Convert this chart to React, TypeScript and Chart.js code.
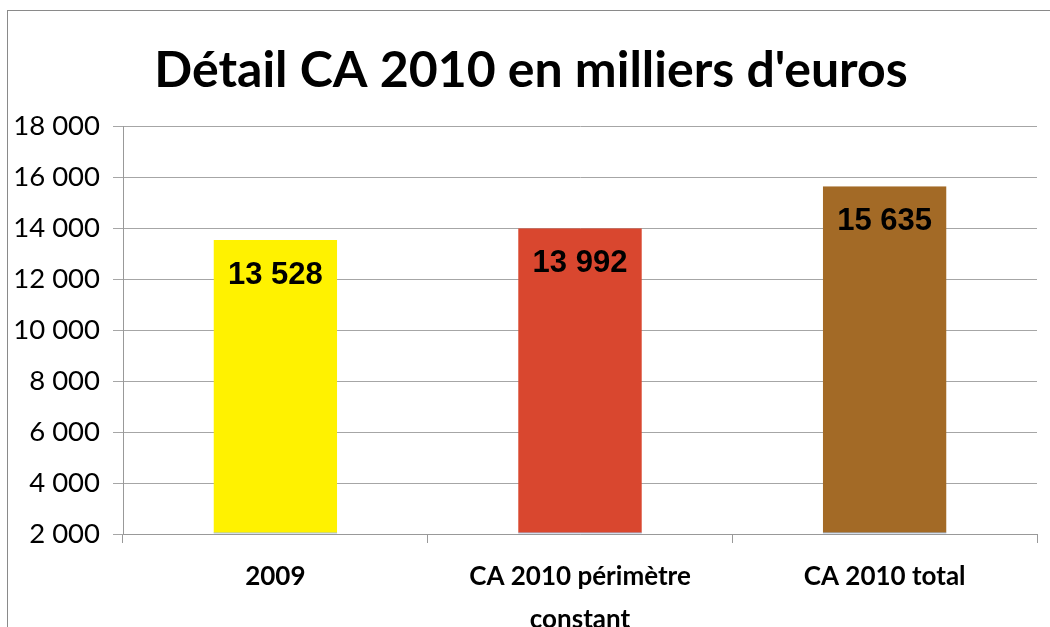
import React, { useEffect, useRef } from "react";
import { Chart, registerables } from "chart.js";

Chart.register(...registerables);

const categories: (string | string[])[] = ["2009", ["CA 2010 périmètre", "constant"], "CA 2010 total"];
const values: number[] = [13528, 13992, 15635];
const barColors: string[] = ["#FFF200", "#D9472F", "#A36A26"];
const yMin = 2000;
const yMax = 18000;
const yStep = 2000;
const titleText = "Détail CA 2010 en milliers d'euros";

const fmt = (v: number) => String(Math.round(v)).replace(/\B(?=(\d{3})+(?!\d))/g, " ");

const framePlugin = {
  id: "frame",
  beforeDraw(chart: any) {
    const ctx = chart.ctx;
    ctx.save();
    ctx.fillStyle = "#ffffff";
    ctx.fillRect(0, 0, chart.width, chart.height);
    ctx.strokeStyle = "#8a8a8a";
    ctx.lineWidth = 1;
    ctx.strokeRect(7.5, 10.5, chart.width + 50, chart.height + 50);
    ctx.restore();
  },
};

const labelPlugin = {
  id: "barValueLabels",
  afterDatasetsDraw(chart: any) {
    const ctx = chart.ctx;
    const meta = chart.getDatasetMeta(0);
    ctx.save();
    ctx.font = "bold 31px 'Liberation Sans'";
    ctx.fillStyle = "#000000";
    ctx.textAlign = "center";
    ctx.textBaseline = "top";
    meta.data.forEach((bar: any, i: number) => {
      ctx.fillText(fmt(values[i]), bar.x, bar.y + 20);
    });
    ctx.restore();
  },
};

export default function App() {
  const ref = useRef<HTMLCanvasElement | null>(null);
  useEffect(() => {
    if (!ref.current) return;
    const chart = new Chart(ref.current, {
      type: "bar",
      data: {
        labels: categories,
        datasets: [
          {
            data: values,
            backgroundColor: barColors,
            borderColor: "#4F81BD",
            borderWidth: { top: 0, left: 0, right: 0, bottom: 1 },
            borderSkipped: false,
            base: yMin,
            categoryPercentage: 1,
            barPercentage: 0.406,
          } as any,
        ],
      },
      options: {
        animation: false,
        responsive: false,
        maintainAspectRatio: false,
        layout: { padding: { left: 12, right: 0, top: 0, bottom: 0 } },
        plugins: {
          legend: { display: false },
          tooltip: { enabled: false },
          title: {
            display: true,
            text: titleText,
            color: "#000000",
            font: { family: "Lato", weight: "bold", size: 50 },
            padding: { top: 41, bottom: 25 },
          },
        },
        scales: {
          x: {
            grid: {
              display: true,
              drawOnChartArea: false,
              drawTicks: true,
              tickLength: 9,
              offset: true,
              color: "#999999",
            },
            border: { display: true, color: "#999999" },
            ticks: {
              color: "#000000",
              font: { family: "Lato", weight: "bold", size: 26, lineHeight: 1.65 },
              padding: 12,
              maxRotation: 0,
              autoSkip: false,
            },
            afterFit(scale: any) {
              scale.height = 93;
            },
          },
          y: {
            min: yMin,
            max: yMax,
            grid: { color: "#a6a6a6", tickLength: 10 },
            border: { display: true, color: "#999999" },
            ticks: {
              stepSize: yStep,
              color: "#000000",
              font: { family: "Lato", size: 27.5 },
              padding: 13,
              callback: (v: any) => fmt(Number(v)),
            },
            afterFit(scale: any) {
              scale.width = 111;
            },
          },
          yRight: {
            type: "linear",
            position: "right",
            min: yMin,
            max: yMax,
            display: true,
            grid: { display: false, drawTicks: false },
            border: { display: false },
            ticks: { display: false },
            afterFit(scale: any) {
              scale.width = 13;
            },
          },
        },
      } as any,
      plugins: [framePlugin, labelPlugin],
    });
    return () => chart.destroy();
  }, []);
  return (
    <div style={{ position: "absolute", left: 0, top: 0, width: 1050, height: 627 }}>
      <canvas ref={ref} width={1050} height={627} style={{ width: 1050, height: 627, display: "block" }} />
    </div>
  );
}
